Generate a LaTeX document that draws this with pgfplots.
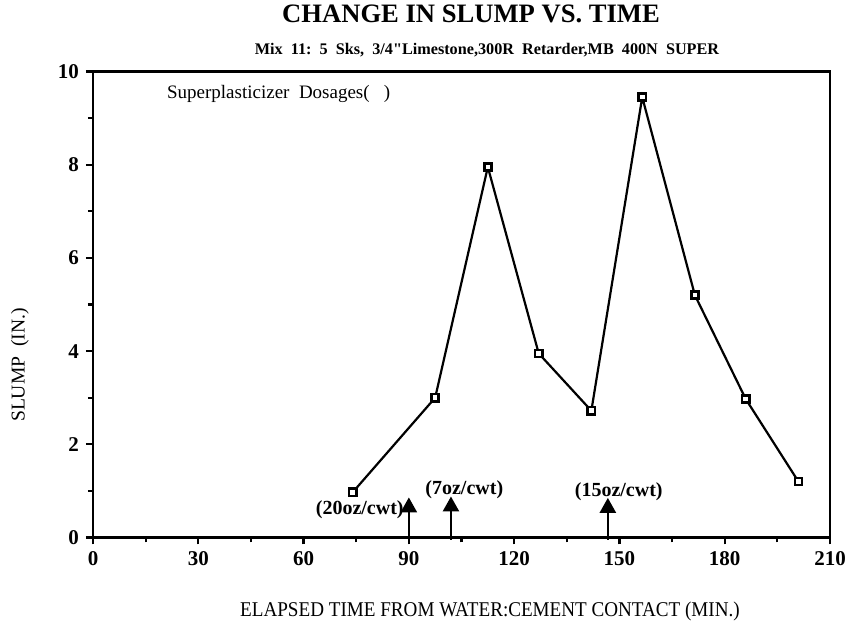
\documentclass[border=0pt]{standalone}
\usepackage{fontspec}
\setmainfont{Liberation Serif}
\newfontfamily\rawserif{Liberation Serif}
\usepackage{graphicx}
\usepackage{pgfplots}
\pgfplotsset{compat=1.18}
\usetikzlibrary{arrows.meta}

\begin{document}
\begin{tikzpicture}
\useasboundingbox (-46.5pt,-48.75pt) rectangle (376pt,268.75pt);
\begin{axis}[
    at={(0pt,0pt)}, anchor=south west,
    scale only axis,
    width=368.5pt, height=233pt,
    xmin=0, xmax=210, ymin=0, ymax=10,
    xtick={0,30,...,210}, ytick={0,2,...,10},
    minor x tick num=1, minor y tick num=1,
    tick pos=left, tick align=outside,
    major tick length=3.5pt, minor tick length=2.5pt,
    axis line style={line width=1.2pt},
    every tick/.style={black, line width=1.1pt},
    /pgf/number format/assume math mode=true,
    ticklabel style={font=\fontsize{10.5}{12}\selectfont\bfseries},
    clip=false,
]
\addplot[black, line width=1.1pt, mark=square*,
    mark size=1.8pt, mark options={fill=white, line width=1.3pt}]
    coordinates {
        (74,0.97) (97.5,3.0) (112.5,7.95) (127,3.95) (142,2.72)
        (156.5,9.45) (171.5,5.2) (186,2.97) (201,1.2)
    };
% superplasticizer dosage arrows
\draw[line width=1.3pt, -{Triangle[length=7.5pt,width=8pt]}]
    (axis cs:90,-0.05) -- (axis cs:90,0.86);
\draw[line width=1.3pt, -{Triangle[length=7.5pt,width=8pt]}]
    (axis cs:102,-0.05) -- (axis cs:102,0.88);
\draw[line width=1.3pt, -{Triangle[length=7.5pt,width=8pt]}]
    (axis cs:146.7,-0.05) -- (axis cs:146.7,0.85);
\node[font=\fontsize{10}{12}\selectfont\bfseries] at (axis cs:76,0.6) {(20oz/cwt)};
\node[font=\fontsize{10}{12}\selectfont\bfseries] at (axis cs:105.8,1.02) {(7oz/cwt)};
\node[font=\fontsize{10}{12}\selectfont\bfseries] at (axis cs:149.8,0.99) {(15oz/cwt)};
\end{axis}
\node[anchor=base, font=\fontsize{13.3}{15}\selectfont\bfseries] at (189pt,257.25pt)
    {CHANGE IN SLUMP VS. TIME};
\node[anchor=base, font=\fontsize{8.1}{9}\selectfont\bfseries] at (197pt,241.25pt)
    {Mix\ \ 11:\ \ 5\ \ Sks,\ \ 3/4{\rawserif\bfseries"}Limestone,300R\ \ Retarder,MB\ \ 400N\ \ SUPER};
\node[anchor=base west, inner sep=0pt, font=\fontsize{9.5}{11}\selectfont] at (36.85pt,219.25pt)
    {Superplasticizer\ \ Dosages(\ \ \ )};
\node[rotate=90, font=\fontsize{9.8}{11}\selectfont] at (-36.5pt,86.25pt)
    {SLUMP\ \ (IN.)};
\node[anchor=base, font=\fontsize{10.5}{12}\selectfont] at (198.5pt,-39.75pt)
    {\scalebox{0.91}[1]{ELAPSED TIME FROM WATER:CEMENT CONTACT (MIN.)}};
\end{tikzpicture}
\end{document}
